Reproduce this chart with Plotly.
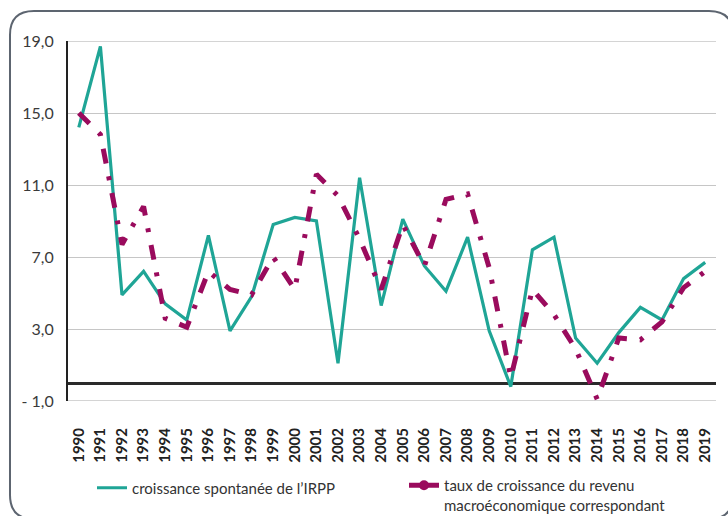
import plotly.graph_objects as go

years = [str(y) for y in range(1990, 2020)]
irpp = [14.2, 18.7, 4.9, 6.2, 4.4, 3.5, 8.2, 2.9, 4.8, 8.8, 9.2, 9.0, 1.1, 11.4, 4.3,
        9.1, 6.5, 5.1, 8.1, 2.9, -0.2, 7.4, 8.1, 2.5, 1.1, 2.8, 4.2, 3.5, 5.8, 6.7]
revenu = [15.0, 13.8, 7.7, 9.8, 3.6, 3.1, 6.2, 5.2, 4.9, 7.0, 5.2, 11.6, 10.4, 8.0, 5.2,
          8.8, 6.5, 10.2, 10.5, 6.4, 0.3, 5.2, 3.8, 1.9, -0.9, 2.5, 2.4, 3.4, 5.3, 6.2]
ytick_vals = [-1, 3, 7, 11, 15, 19]
ytick_text = ["- 1,0", "3,0", "7,0", "11,0", "15,0", "19,0"]
name_irpp = "croissance spontanée de l’IRPP"
name_rev = "taux de croissance du revenu<br>macroéconomique correspondant"

TEAL = "#1fa596"
MAG = "#9a0b5d"
GRID = "#c6c6c6"
FONT = "Lato"

W, H = 728, 516
ML, MR, MT, MB = 68, 12, 41, 115
PW, PH = W - ML - MR, H - MT - MB


def px(x, y):
    return (x - ML) / PW, (H - MB - y) / PH


fig = go.Figure()
fig.add_trace(go.Scatter(x=years, y=irpp, mode="lines", name=name_irpp,
                         line=dict(color=TEAL, width=3.2), legend="legend"))
fig.add_trace(go.Scatter(x=years, y=revenu, mode="lines", showlegend=False,
                         line=dict(color=MAG, width=5, dash="15px,13px,4px,13px")))
fig.add_trace(go.Scatter(x=[None], y=[None], mode="lines+markers", name=name_rev,
                         line=dict(color=MAG, width=5),
                         marker=dict(color=MAG, size=10, symbol="circle"),
                         legend="legend2"))

# gridlines at the two ends of the value axis
for v in (ytick_vals[0], ytick_vals[-1]):
    fig.add_shape(type="line", xref="paper", yref="y", x0=0, x1=1, y0=v, y1=v,
                  line=dict(color=GRID, width=1.3), layer="below")

# rounded frame
L, T, R, B, r = 10, 11, 733, 519, 24
def P(x, y):
    a, b = px(x, y)
    return f"{a:.5f},{b:.5f}"
path = (f"M {P(L+r, T)} L {P(R-r, T)} Q {P(R, T)} {P(R, T+r)} "
        f"L {P(R, B-r)} Q {P(R, B)} {P(R-r, B)} L {P(L+r, B)} "
        f"Q {P(L, B)} {P(L, B-r)} L {P(L, T+r)} Q {P(L, T)} {P(L+r, T)} Z")
fig.add_shape(type="path", path=path, xref="paper", yref="paper",
              line=dict(color="#5d6570", width=2), layer="below")

fig.update_layout(
    width=W, height=H,
    margin=dict(l=ML, r=MR, t=MT, b=MB, autoexpand=False),
    paper_bgcolor="white", plot_bgcolor="white",
    font=dict(family=FONT, color="#333333"),
    legend=dict(x=px(92, 0)[0], y=px(0, 488)[1], xanchor="left", yanchor="middle",
                font=dict(size=15, color="#333333"), bgcolor="rgba(0,0,0,0)",
                itemwidth=30),
    legend2=dict(x=px(404, 0)[0], y=px(0, 469)[1], xanchor="left", yanchor="top",
                 valign="top",
                 font=dict(size=15, color="#333333"), bgcolor="rgba(0,0,0,0)",
                 itemwidth=30),
    xaxis=dict(type="category", range=[-0.5, len(years) - 0.5], showgrid=False,
               showline=False, zeroline=False, tickangle=-90, ticks="",
               ticklabelstandoff=23, automargin=False,
               tickfont=dict(size=15, family=FONT, color="#222222", weight="bold")),
    yaxis=dict(range=[-1, 19], tickvals=ytick_vals, ticktext=ytick_text,
               showgrid=True, gridcolor=GRID, gridwidth=1.3,
               showline=True, linecolor="#222222", linewidth=2.2,
               zeroline=True, zerolinecolor="#2a2a2a", zerolinewidth=2.6,
               ticks="", ticklabelstandoff=9, automargin=False,
               tickfont=dict(size=16, color="#3a3a3a")),
)

fig.write_html("out.html", config={"displayModeBar": False},
               post_script="document.body.style.margin='0';document.body.style.overflow='hidden';")
